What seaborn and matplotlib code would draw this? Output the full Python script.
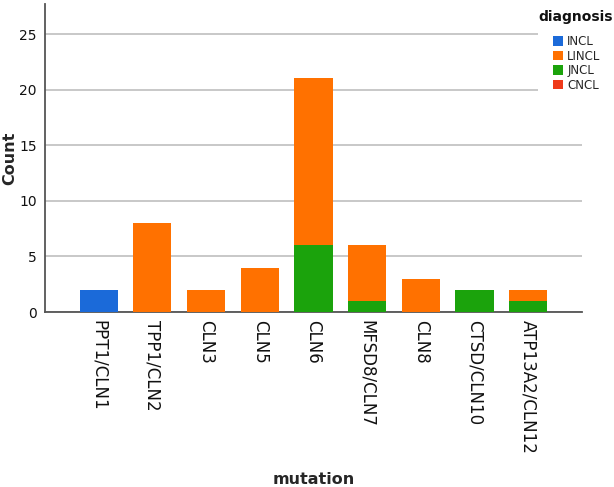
# Stacked bar chart of NCL cases per mutation, coloured by diagnosis

import pandas as pd
import matplotlib
matplotlib.use("Agg")
import matplotlib.pyplot as plt
from matplotlib.patches import Patch
import seaborn as sns

# Data
mutations = ["PPT1/CLN1", "TPP1/CLN2", "CLN3", "CLN5", "CLN6",
             "MFSD8/CLN7", "CLN8", "CTSD/CLN10", "ATP13A2/CLN12"]
incl = [2, 0, 0, 0, 0, 0, 0, 0, 0]
lincl = [0, 8, 2, 4, 15, 5, 3, 0, 1]
jncl = [0, 0, 0, 0, 6, 1, 0, 2, 1]
cncl = [0, 0, 0, 0, 0, 0, 0, 0, 0]

diagnoses = ["INCL", "LINCL", "JNCL", "CNCL"]
palette = {"INCL": "#1b6ad9", "LINCL": "#ff7100", "JNCL": "#1ba30c", "CNCL": "#ef3a1a"}

df = pd.DataFrame({"mutation": mutations, "INCL": incl, "LINCL": lincl,
                   "JNCL": jncl, "CNCL": cncl})

# cumulative heights, bottom to top: CNCL, JNCL, LINCL, INCL
stack_order = ["CNCL", "JNCL", "LINCL", "INCL"]
running = pd.Series(0, index=df.index)
cum = {}
for d in stack_order:
    running = running + df[d]
    cum[d] = running.copy()

sns.set_style("white")
plt.rcParams["font.family"] = ["DejaVu Sans"]

fig = plt.figure(figsize=(6.14, 4.87), dpi=100)
ax = fig.add_axes([0.0733, 0.3593, 0.8745, 0.6325])

# draw tallest layer first, lower layers painted over it
for d in reversed(stack_order):
    sns.barplot(x=df["mutation"], y=cum[d], color=palette[d], width=0.71,
                saturation=1, ax=ax, zorder=3, linewidth=0)

ax.set_xlim(-1, 9)
ax.set_ylim(0, 27.7)
ax.set_yticks([0, 5, 10, 15, 20, 25])
ax.yaxis.grid(True, color="#c4c4c4", linewidth=1.3, zorder=0)
ax.xaxis.grid(False)
ax.set_axisbelow(True)

for s in ["top", "right"]:
    ax.spines[s].set_visible(False)
for s in ["left", "bottom"]:
    ax.spines[s].set_color("#555555")
    ax.spines[s].set_linewidth(1.3)

ax.tick_params(axis="y", length=0, labelsize=10, colors="#111111", pad=6)
ax.tick_params(axis="x", length=0, labelsize=12, colors="#111111", pad=6)
plt.setp(ax.get_xticklabels(), rotation=-90, ha="center", va="top")

ax.set_xlabel("mutation", fontsize=11.5, fontweight="bold")
ax.xaxis.set_label_coords(0.5, -0.545)
ax.xaxis.label.set_va("center")
ax.set_ylabel("Count", fontsize=11.5, fontweight="bold")
ax.yaxis.set_label_coords(-0.066, 0.5)
ax.yaxis.label.set_va("center")

# legend: entries in a white box, title as separate text above them
handles = [Patch(facecolor=palette[d], edgecolor="none", label=d) for d in diagnoses]
leg = fig.legend(handles=handles, loc="upper left",
                 bbox_to_anchor=(0.899, 0.93), frameon=True, framealpha=1,
                 edgecolor="white", fontsize=8.5,
                 handlelength=0.85, handleheight=0.85, handletextpad=0.35,
                 labelspacing=0.12, borderpad=0.1, borderaxespad=0)
fig.patches.append(plt.Rectangle((0.876, 0.8), 0.124, 0.2, transform=fig.transFigure,
                                 facecolor="white", edgecolor="none", zorder=2))
fig.text(0.938, 0.965, "diagnosis", ha="center", va="center",
         fontsize=10, fontweight="bold", color="#111111", zorder=5)

plt.savefig("out.png", dpi=100)
